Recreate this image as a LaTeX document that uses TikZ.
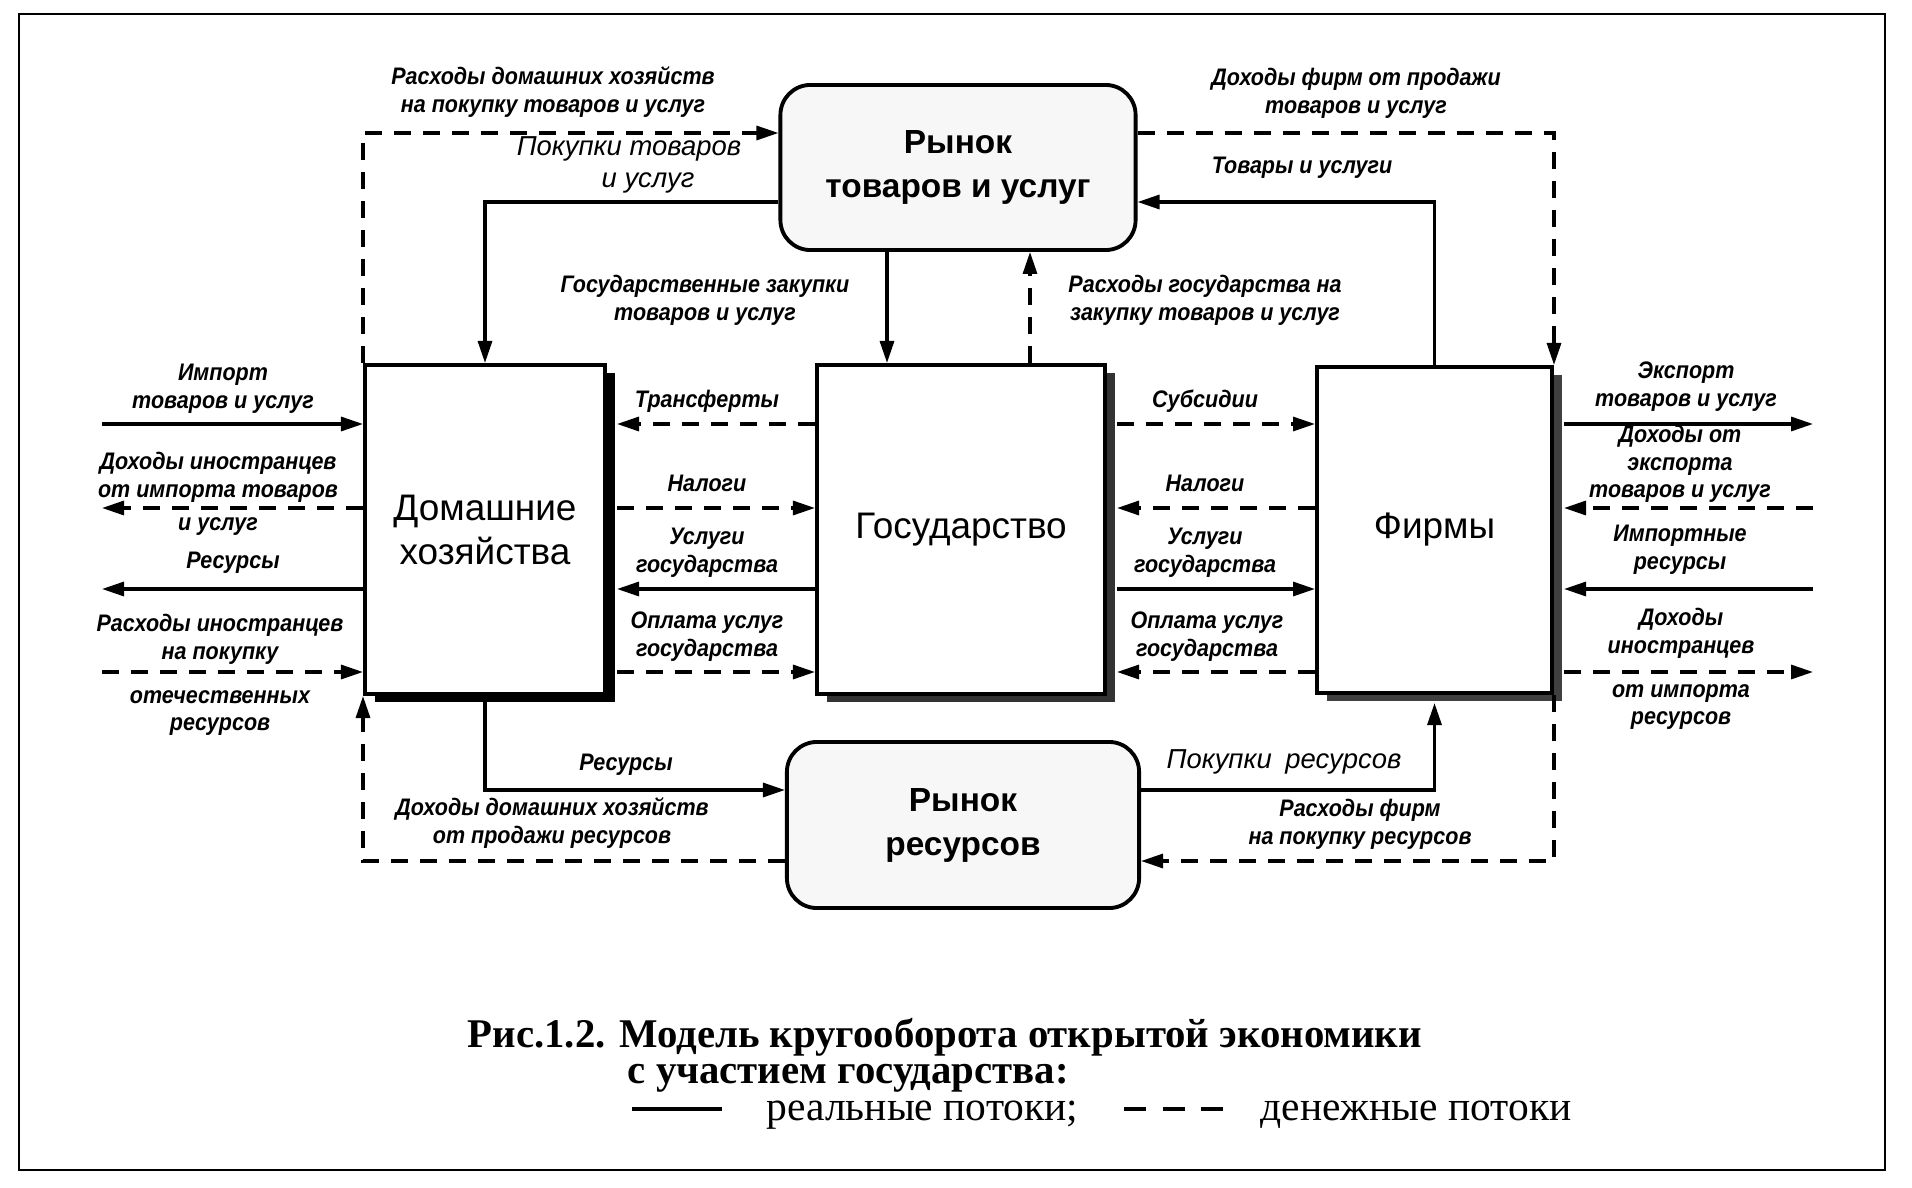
\documentclass[tikz,border=0pt]{standalone}
\usepackage{fontspec}
\setmainfont{Liberation Sans}
\newfontfamily\capfont{Liberation Serif}
\newfontfamily\lblfont[FakeStretch=0.9]{Liberation Sans}
\usetikzlibrary{arrows.meta,shadows}
\tikzset{>={Triangle[length=0.22cm,width=0.14cm]}}

\begin{document}
\begin{tikzpicture}[x=0.01cm,y=-0.01cm,
	agent/.style={draw,line width=1.1pt,fill=white,minimum height=3.29cm,align=center,
		font=\fontsize{10.5}{12.5}\selectfont,
		drop shadow={shadow xshift=0.1cm,shadow yshift=-0.08cm,fill=#1,opacity=1}},
	agent/.default=black,
	market/.style={draw,line width=1.1pt,rounded corners=0.3cm,fill=black!3,
		minimum width=3.55cm,minimum height=1.65cm,align=center,
		font=\bfseries\fontsize{9.5}{12.5}\selectfont},
	lbl/.style={inner sep=0,align=center,font=\lblfont\bfseries\itshape\fontsize{6.8}{7.9}\selectfont},
	big/.style={inner sep=0,align=center,font=\itshape\fontsize{7.8}{9}\selectfont},
	capline/.style={inner sep=0,anchor=base west,font=\capfont\fontsize{11.8}{14}\selectfont},
	capbold/.style={capline,font=\capfont\bfseries\fontsize{11.6}{14}\selectfont},
	real/.style={line width=0.9pt,->},
	money/.style={real,dash pattern=on 0.17cm off 0.12cm},
	toshade/.style={shorten >=#1},toshade/.default=0.1cm,
	fromshade/.style={shorten <=#1},fromshade/.default=0.1cm]
			\useasboundingbox (0,0) rectangle (1912,1188);
			% \draw[help lines,step=100] (0,0) grid (1912,1188);
			\draw[line width=0.8pt] (19,14) rectangle (1885,1170);
			\node[agent,minimum width=2.4cm] (hh) at (485,529.5) {Домашние\\хозяйства};
			\node[agent=black!80,minimum width=2.88cm] (gov) at (961,529.5) {Государство};
			\node[agent=black!75,minimum width=2.35cm,minimum height=3.26cm] (firms) at (1434.5,530) {Фирмы};
			\node[market] (goods) at (958,167.5) {Рынок\\товаров и услуг};
			\node[market,minimum width=3.52cm,minimum height=1.66cm] (res) at (963,825) {Рынок\\ресурсов};
			\coordinate (r1) at (0,424);
			\coordinate (r2) at (0,508);
			\coordinate (r3) at (0,589);
			\coordinate (r4) at (0,672);
			\coordinate (wl) at (102,0);
			\coordinate (wr) at (1813,0);
			\coordinate (t1) at (0,133);
			\coordinate (t2) at (0,202);
			\coordinate (b1) at (0,790);
			\coordinate (b2) at (0,861);
			\coordinate (g1) at (887,0);
			\coordinate (g2) at (1030,0);
			% рынок товаров
			\draw[money] (hh.north west) |- (goods.west |- t1);
			\draw[real] (goods.west |- t2) -| (hh.north);
			\draw[real] (goods.south -| g1) -- (gov.north -| g1);
			\draw[money] (gov.north -| g2) -- (goods.south -| g2);
			\draw[money] (goods.east |- t1) -| (firms.north east);
			\draw[real] (firms.north) |- (goods.east |- t2);
			% заграница слева
			\draw[real] (wl |- r1) -- (hh.west |- r1);
			\draw[money] (hh.west |- r2) -- (wl |- r2);
			\draw[real] (hh.west |- r3) -- (wl |- r3);
			\draw[money] (wl |- r4) -- (hh.west |- r4);
			% домашние хозяйства -- государство
			\draw[money,toshade] (gov.west |- r1) -- (hh.east |- r1);
			\draw[money,fromshade] (hh.east |- r2) -- (gov.west |- r2);
			\draw[real,toshade] (gov.west |- r3) -- (hh.east |- r3);
			\draw[money,fromshade] (hh.east |- r4) -- (gov.west |- r4);
			% государство -- фирмы
			\draw[money,fromshade] (gov.east |- r1) -- (firms.west |- r1);
			\draw[money,toshade] (firms.west |- r2) -- (gov.east |- r2);
			\draw[real,fromshade] (gov.east |- r3) -- (firms.west |- r3);
			\draw[money,toshade] (firms.west |- r4) -- (gov.east |- r4);
			% заграница справа
			\draw[real,fromshade] (firms.east |- r1) -- (wr |- r1);
			\draw[money,toshade] (wr |- r2) -- (firms.east |- r2);
			\draw[real,toshade] (wr |- r3) -- (firms.east |- r3);
			\draw[money,fromshade] (firms.east |- r4) -- (wr |- r4);
			% рынок ресурсов
			\draw[real] (hh.south) |- (res.west |- b1);
			\draw[money] (res.west |- b2) -| (hh.south west);
			\draw[real,toshade=0.08cm] (res.east |- b1) -| (firms.south);
			\draw[money] (firms.south east) |- (res.east |- b2);
			% подписи
			\node[lbl] (l1) at (553,92) {Расходы домашних хозяйств\\на покупку товаров и услуг};
			\node[big] (l2) at (629,165) {Покупки товаров\\\hspace*{0.38cm}и услуг};
			\node[lbl] (l3) at (1356,93) {Доходы фирм от продажи\\товаров и услуг};
			\node[lbl] (l4) at (1302,168) {Товары и услуги};
			\node[lbl] (l5) at (705,300) {Государственные закупки\\товаров и услуг};
			\node[lbl] (l6) at (1205,300) {Расходы государства на\\закупку товаров и услуг};
			\node[lbl] (l7) at (223,389) {Импорт\\товаров и услуг};
			\node[lbl] (l8) at (707,401) {Трансферты};
			\node[lbl] (l9) at (1205,401) {Субсидии};
			\node[lbl] (l10) at (1686,387) {Экспорт\\товаров и услуг};
			\node[lbl] (l11) at (1680,464) {Доходы от\\экспорта\\товаров и услуг};
			\node[lbl] (l12) at (218,494) {Доходы иностранцев\\от импорта товаров\\[0.06cm]и услуг};
			\node[lbl] (l13) at (707,483) {Налоги};
			\node[lbl] (l14) at (1205,483) {Налоги};
			\node[lbl] (l15) at (233,563) {Ресурсы};
			\node[lbl] (l16) at (707,553) {Услуги\\государства};
			\node[lbl] (l17) at (1205,553) {Услуги\\государства};
			\node[lbl] (l18) at (1680,550) {Импортные\\ресурсы};
			\node[lbl] (l19) at (220,675) {Расходы иностранцев\\на покупку\\[0.16cm]отечественных\\ресурсов};
			\node[lbl] (l20) at (707,637) {Оплата услуг\\государства};
			\node[lbl] (l21) at (1207,637) {Оплата услуг\\государства};
			\node[lbl] (l22) at (1681,669) {Доходы\\иностранцев\\[0.16cm]от импорта\\ресурсов};
			\node[lbl] (l23) at (626,765) {Ресурсы};
			\node[lbl] (l24) at (552,823) {Доходы домашних хозяйств\\от продажи ресурсов};
			\node[big] (l25) at (1284,762) {Покупки\enspace ресурсов};
			\node[lbl] (l26) at (1360,824) {Расходы фирм\\на покупку ресурсов};
			% подпись к рисунку
			\node[capbold] (cap1) at (467,1047) {Рис.1.2. Модель кругооборота открытой экономики};
			\node[capbold] (cap2) at (627,1083) {с участием государства:};
			\node[capline] (cap3) at (766,1120) {реальные потоки;};
			\node[capline] (cap4) at (1260,1120) {денежные потоки};
			\draw[line width=1.1pt] (632,1109) -- (722,1109);
			\draw[line width=1.1pt,dash pattern=on 0.22cm off 0.165cm] (1124,1109) -- (1223,1109);
		\end{tikzpicture}
\end{document}
